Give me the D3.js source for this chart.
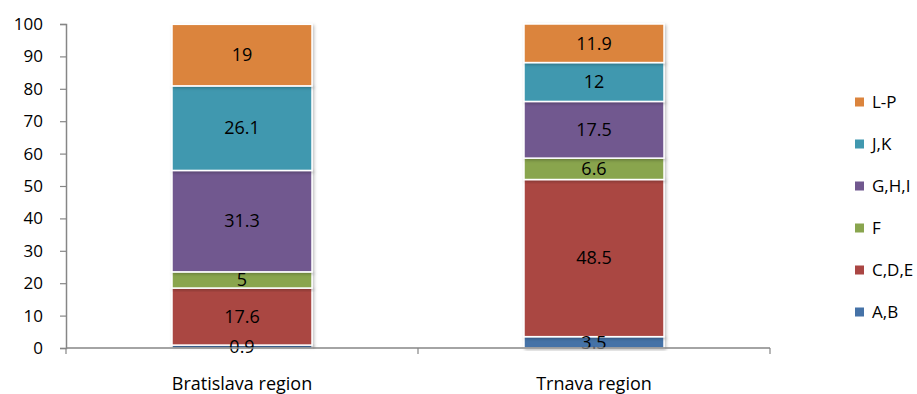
<!DOCTYPE html>
<html><head><meta charset="utf-8">
<script src="https://cdn.jsdelivr.net/npm/d3@7"></script>
<style>body{margin:0;background:#fff}svg{display:block;font-family:"Open Sans",sans-serif}</style>
</head><body><svg id="c" width="917" height="394"></svg>
<script>
const categories = ["Bratislava region", "Trnava region"];
const seriesNames = ["A,B", "C,D,E", "F", "G,H,I", "J,K", "L-P"];
const AB = [0.9, 3.5];
const CDE = [17.6, 48.5];
const F = [5, 6.6];
const GHI = [31.3, 17.5];
const JK = [26.1, 12];
const LP = [19, 11.9];
const yTicks = [0,10,20,30,40,50,60,70,80,90,100];
const colors = ["#4572A7", "#AA4643", "#89A54E", "#71588F", "#4198AF", "#DB843D"];

(function(){
const seriesVals = [AB, CDE, F, GHI, JK, LP];
const rows = categories.map((c, i) => {
  const r = {cat: c};
  seriesNames.forEach((s, j) => r[s] = seriesVals[j][i]);
  return r;
});
const stack = d3.stack().keys(seriesNames)(rows);

const svg = d3.select("#c");
const pL = 66, pR = 770, pT = 24, pB = 348;
const x = d3.scaleBand().domain(categories).range([pL, pR]).paddingInner(0).paddingOuter(0);
const y = d3.scaleLinear().domain([0, 100]).range([pB, pT]);
const bw = 140;

const defs = svg.append("defs");
const f = defs.append("filter").attr("id", "sh").attr("x", "-10%").attr("y", "-10%").attr("width", "130%").attr("height", "130%");
f.append("feDropShadow").attr("dx", 1.5).attr("dy", 1.5).attr("stdDeviation", 1.5).attr("flood-color", "#000").attr("flood-opacity", 0.25);

const g = svg.append("g");
stack.forEach((layer, j) => {
  g.selectAll(null).data(layer).enter().append("rect")
    .attr("x", d => x(d.data.cat) + x.bandwidth()/2 - bw/2)
    .attr("width", bw)
    .attr("y", d => y(d[1]))
    .attr("height", d => y(d[0]) - y(d[1]))
    .attr("fill", colors[j])
    .attr("stroke", "#fff").attr("stroke-width", 1.5)
    .attr("filter", "url(#sh)");
});

const yAxis = d3.axisLeft(y).tickValues(yTicks).tickSize(6).tickPadding(17);
const ya = svg.append("g").attr("transform", `translate(${pL},0)`).call(yAxis);
ya.select(".domain").attr("stroke", "#868686").attr("stroke-width", 1.5);
ya.selectAll(".tick line").attr("stroke", "#868686").attr("stroke-width", 1.2);
ya.selectAll("text").attr("font-size", 17).attr("fill", "#000").attr("font-family", "Open Sans");

const xa = svg.append("g").attr("transform", `translate(0,${pB})`);
xa.append("line").attr("x1", pL).attr("x2", pR).attr("stroke", "#868686").attr("stroke-width", 1.5);
[pL, pL + x.bandwidth(), pR].forEach(v => {
  xa.append("line").attr("x1", v).attr("x2", v).attr("y1", 0).attr("y2", 6).attr("stroke", "#868686").attr("stroke-width", 1.2);
});
xa.selectAll(null).data(categories).enter().append("text")
  .attr("x", d => x(d) + x.bandwidth()/2).attr("y", 42)
  .attr("text-anchor", "middle").attr("font-size", 18).attr("fill", "#000")
  .text(d => d);

stack.forEach((layer, j) => {
  g.selectAll(null).data(layer).enter().append("text")
    .attr("x", d => x(d.data.cat) + x.bandwidth()/2)
    .attr("y", d => (y(d[0]) + y(d[1]))/2)
    .attr("dy", "0.35em")
    .attr("text-anchor", "middle").attr("font-size", 18).attr("fill", "#000")
    .text(d => d.data[seriesNames[j]]);
});

const lg = svg.append("g");
const order = seriesNames.slice().reverse();
order.forEach((s, i) => {
  const yy = 102 + i * 42;
  lg.append("rect").attr("x", 855).attr("y", yy - 4.5).attr("width", 9).attr("height", 9)
    .attr("fill", colors[seriesNames.indexOf(s)]);
  lg.append("text").attr("x", 872).attr("y", yy).attr("dy", "0.35em")
    .attr("font-size", 17).attr("fill", "#000").text(s);
});
})();
</script></body></html>
